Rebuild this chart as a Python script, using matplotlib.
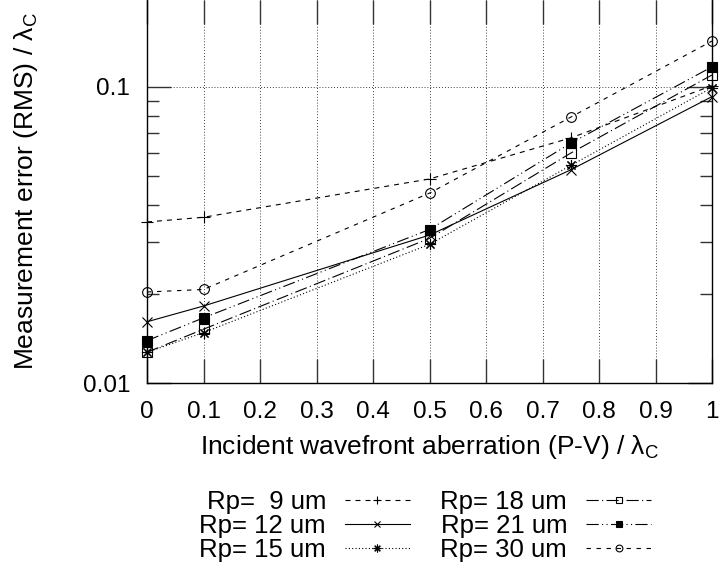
import numpy as np
import matplotlib
matplotlib.use('Agg')
import matplotlib.pyplot as plt
from matplotlib.ticker import FixedLocator, NullFormatter

plt.rcParams['font.family'] = ['Liberation Sans', 'DejaVu Sans']
plt.rcParams['mathtext.fontset'] = 'custom'
plt.rcParams['mathtext.rm'] = 'Liberation Sans'
plt.rcParams['mathtext.it'] = 'Liberation Sans:italic'
plt.rcParams['font.size'] = 17.5

# --- data ---
aberration = [0.0, 0.1, 0.5, 0.75, 1.0]
rp9 = [0.0350, 0.0363, 0.0489, 0.0673, 0.101]
rp12 = [0.0161, 0.0182, 0.0316, 0.0525, 0.0928]
rp15 = [0.0127, 0.0148, 0.0294, 0.0543, 0.0995]
rp18 = [0.0127, 0.0152, 0.0308, 0.0598, 0.1098]
rp21 = [0.0139, 0.0166, 0.0330, 0.0646, 0.117]
rp30 = [0.0203, 0.0207, 0.0438, 0.0791, 0.143]

labels = ['Rp=  9 um', 'Rp= 12 um', 'Rp= 15 um', 'Rp= 18 um', 'Rp= 21 um', 'Rp= 30 um']
series = [rp9, rp12, rp15, rp18, rp21, rp30]

# gnuplot-ish line / point styles
styles = [
    dict(ls=(0, (4.5, 4.5)), marker='+', ms=8, mfc='none'),
    dict(ls='-', marker='x', ms=7, mfc='none'),
    dict(ls=(0, (1, 2)), marker=(8, 2, 0), ms=8, mfc='none'),
    dict(ls=(0, (11, 3, 1, 3)), marker='s', ms=6.5, mfc='none'),
    dict(ls=(0, (11, 3, 1, 3, 1, 3)), marker='s', ms=6.5, mfc='black'),
    dict(ls=(0, (4, 5)), marker='o', ms=7, mfc='none'),
]

fig = plt.figure(figsize=(7.2, 5.71), dpi=100)
ax = fig.add_axes([147 / 720, 1 - 383 / 571, (712 - 147) / 720, 383 / 571])

for y, lab, st in zip(series, labels, styles):
    ax.plot(aberration, y, color='black', lw=0.8, mew=0.8, label=lab, clip_on=False, **st)

ax.set_yscale('log')
ax.set_xlim(0, 1)
ax.set_ylim(0.01, 10 ** (-1 + 87 / 296))

ax.xaxis.set_major_locator(FixedLocator(np.round(np.arange(0, 1.01, 0.1), 1)))
ax.set_xticklabels(['0', '0.1', '0.2', '0.3', '0.4', '0.5', '0.6', '0.7', '0.8', '0.9', '1'])
ax.yaxis.set_major_locator(FixedLocator([0.01, 0.1]))
ax.set_yticklabels(['0.01', '0.1'])
ax.yaxis.set_minor_locator(FixedLocator([0.02, 0.03, 0.04, 0.05, 0.06, 0.07, 0.08, 0.09]))
ax.yaxis.set_minor_formatter(NullFormatter())

ax.tick_params(which='both', direction='in', top=True, right=True, width=1.0, color='#333333')
ax.tick_params(which='major', length=17)
ax.tick_params(which='minor', length=8.5)
ax.tick_params(axis='x', which='major', pad=13)
ax.tick_params(axis='y', which='major', pad=12)

ax.grid(True, which='major', color='black', lw=0.6, ls=(0, (1, 2.5)))
ax.spines['top'].set_visible(False)
for s in ['left', 'right', 'bottom']:
    ax.spines[s].set_linewidth(1.0)

ax.set_xlabel('Incident wavefront aberration (P-V) / λ$_{\\mathrm{C}}$', fontsize=19, labelpad=7)
ax.set_ylabel('Measurement error (RMS) / λ$_{\\mathrm{C}}$', fontsize=19, labelpad=31)

leg = fig.legend(loc='center', bbox_to_anchor=(425 / 720, 1 - 526 / 571), ncol=2,
                 frameon=False, markerfirst=False, handlelength=2.5, handletextpad=0.75,
                 columnspacing=1.2, labelspacing=0.0, markerscale=0.7, fontsize=18.5)

fig.savefig('out.png', dpi=100)
